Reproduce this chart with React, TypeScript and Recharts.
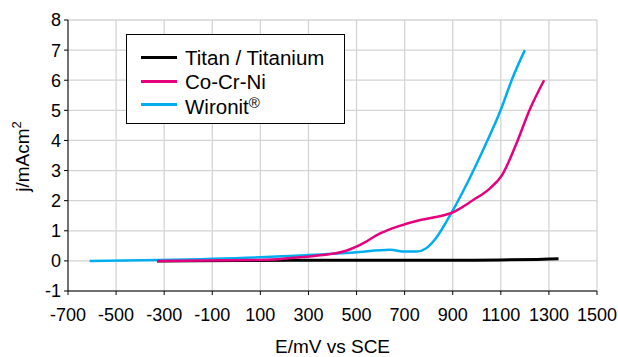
import React from 'react';
import { LineChart, Line, XAxis, YAxis, CartesianGrid, Legend } from 'recharts';

// potential (mV vs SCE) and current density (mA/cm2) per alloy
const titanMv = [-330, 0, 300, 600, 900, 1100, 1250, 1340];
const titanJ = [0, 0.01, 0.02, 0.02, 0.02, 0.03, 0.05, 0.07];

const cocrniMv = [-330, 100, 265, 445, 515, 600, 670, 765, 850, 905, 985, 1055, 1105, 1165, 1220, 1280];
const cocrniJ = [0, 0.03, 0.12, 0.31, 0.53, 0.92, 1.14, 1.36, 1.49, 1.63, 2.02, 2.41, 2.85, 3.9, 5.02, 6.0];

const wironitMv = [-610, -320, 100, 290, 490, 640, 700, 750, 790, 830, 890, 960, 1030, 1100, 1150, 1200];
const wironitJ = [0, 0.03, 0.12, 0.19, 0.28, 0.37, 0.31, 0.31, 0.42, 0.75, 1.53, 2.58, 3.75, 5.02, 6.1, 7.0];

const xTicks = [-700, -500, -300, -100, 100, 300, 500, 700, 900, 1100, 1300, 1500];
const yTicks = [-1, 0, 1, 2, 3, 4, 5, 6, 7, 8];

const legendOrder = ['Titan / Titanium', 'Co-Cr-Ni', 'Wironit®'];

const FONT = '"Liberation Sans", Arial, Helvetica, sans-serif';

const zip = (mv: number[], j: number[]) => mv.map((v, i) => ({ mV: v, j: j[i] }));

const titanData = zip(titanMv, titanJ);
const cocrniData = zip(cocrniMv, cocrniJ);
const wironitData = zip(wironitMv, wironitJ);

const tickStyle = { fill: '#000', fontSize: 18, fontFamily: FONT };

// ® is drawn as a small raised mark, like the original legend
function LegendLabel({ text }: { text: string }) {
  const parts = text.split('®');
  if (parts.length === 1) return <>{text}</>;
  return (
    <>
      {parts[0]}
      <span style={{ fontSize: 15, verticalAlign: 6 }}>®</span>
      {parts[1]}
    </>
  );
}

function LegendBox({ payload }: any) {
  const items = [...(payload || [])].sort(
    (a: any, b: any) => legendOrder.indexOf(a.value) - legendOrder.indexOf(b.value)
  );
  return (
    <div
      style={{
        border: '1px solid #000',
        background: '#fff',
        width: 219,
        height: 90,
        paddingTop: 11,
        boxSizing: 'border-box',
        fontFamily: FONT,
        fontSize: 20.5,
        color: '#000'
      }}
    >
      {items.map((item: any) => (
        <div key={item.value} style={{ display: 'flex', alignItems: 'center', height: 23.5 }}>
          <div style={{ marginLeft: 14, width: 36, height: 3, background: item.color }} />
          <span style={{ marginLeft: 8, lineHeight: '23px' }}>
            <LegendLabel text={item.value} />
          </span>
        </div>
      ))}
    </div>
  );
}

function YTitle({ viewBox }: any) {
  const cx = 22;
  const cy = viewBox.y + viewBox.height / 2 + 1;
  return (
    <text
      x={cx}
      y={cy}
      transform={`rotate(-90, ${cx}, ${cy})`}
      textAnchor="middle"
      dominantBaseline="central"
      fontFamily={FONT}
      fontSize={19}
      fill="#000"
    >
      j/mAcm
      <tspan dy={-6} fontSize={13}>
        2
      </tspan>
    </text>
  );
}

export default function App() {
  return (
    <div style={{ position: 'absolute', left: 0, top: 0, width: 618, height: 357, background: '#fff' }}>
      <LineChart width={618} height={357} margin={{ top: 20, right: 21, bottom: 0, left: 0 }}>
        <CartesianGrid stroke="#d4d4d4" strokeWidth={1.3} />
        <XAxis
          dataKey="mV"
          type="number"
          domain={[-700, 1500]}
          ticks={xTicks}
          interval={0}
          allowDataOverflow
          height={66}
          tick={tickStyle}
          tickSize={4}
          tickMargin={13}
          axisLine={{ stroke: '#000' }}
          tickLine={{ stroke: '#000' }}
          label={{ value: 'E/mV vs SCE', position: 'insideBottom', offset: 4, fill: '#000', fontSize: 19, fontFamily: FONT }}
        />
        <XAxis
          xAxisId="top"
          orientation="top"
          type="number"
          domain={[-700, 1500]}
          height={0}
          tick={false}
          tickLine={false}
          axisLine={{ stroke: '#000' }}
        />
        <YAxis
          type="number"
          domain={[-1, 8]}
          ticks={yTicks}
          interval={0}
          width={68}
          tick={tickStyle}
          tickSize={4}
          tickMargin={3}
          axisLine={{ stroke: '#000' }}
          tickLine={{ stroke: '#000' }}
          label={<YTitle />}
        />
        <YAxis
          yAxisId="right"
          orientation="right"
          type="number"
          domain={[-1, 8]}
          width={0}
          tick={false}
          tickLine={false}
          axisLine={{ stroke: '#000' }}
        />
        <Legend
          layout="vertical"
          align="center"
          verticalAlign="middle"
          content={<LegendBox />}
          wrapperStyle={{ left: 126, top: 34, width: 221, height: 92 }}
        />
        <Line
          data={titanData}
          dataKey="j"
          name="Titan / Titanium"
          type="monotone"
          stroke="#000000"
          strokeWidth={3}
          dot={false}
          isAnimationActive={false}
        />
        <Line
          data={wironitData}
          dataKey="j"
          name="Wironit®"
          type="monotone"
          stroke="#00aeef"
          strokeWidth={2.5}
          dot={false}
          isAnimationActive={false}
        />
        <Line
          data={cocrniData}
          dataKey="j"
          name="Co-Cr-Ni"
          type="monotone"
          stroke="#e6007e"
          strokeWidth={2.5}
          dot={false}
          isAnimationActive={false}
        />
      </LineChart>
    </div>
  );
}
